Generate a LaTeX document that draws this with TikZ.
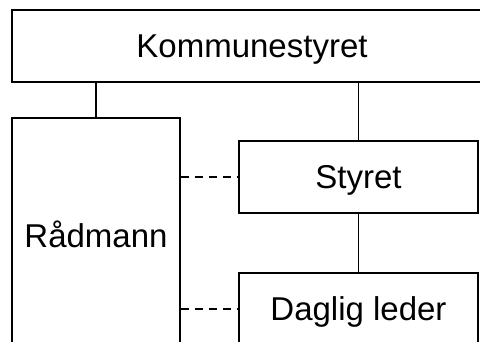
\documentclass[tikz,border=0pt]{standalone}
\usepackage{fontspec}
\setmainfont{Liberation Sans}
\begin{document}
\begin{tikzpicture}[x=1pt,y=-1pt,
  orgbox/.style={draw=black,line width=1.7pt,rectangle,inner sep=0pt,
    font=\fontsize{33}{38}\selectfont,text depth=0pt},
  link/.style={line width=1.8pt},
  dashlink/.style={line width=1.8pt,dash pattern=on 8pt off 6pt}]
\useasboundingbox[fill=white] (0,0) rectangle (480,341);
\begin{scope}
\clip (0,0) rectangle (480,341);
\node[orgbox,minimum width=480pt,minimum height=72pt] (kom) at (252,46) {Kommunestyret};
\node[orgbox,minimum width=168pt,minimum height=232pt] (rad) at (96,234) {Rådmann};
\node[orgbox,minimum width=239pt,minimum height=72pt] (sty) at (358.5,177) {Styret};
\node[orgbox,minimum width=239pt,minimum height=72pt] (dag) at (358.5,309) {Daglig leder};
\draw[link] (rad.north) -- (rad.north |- kom.south);
\draw[link] (sty.north) -- (sty.north |- kom.south);
\draw[link] (sty.south) -- (dag.north);
\draw[dashlink] (rad.east |- sty.west) -- (sty.west);
\draw[dashlink] (rad.east |- dag.west) -- (dag.west);
\end{scope}
\end{tikzpicture}
\end{document}
